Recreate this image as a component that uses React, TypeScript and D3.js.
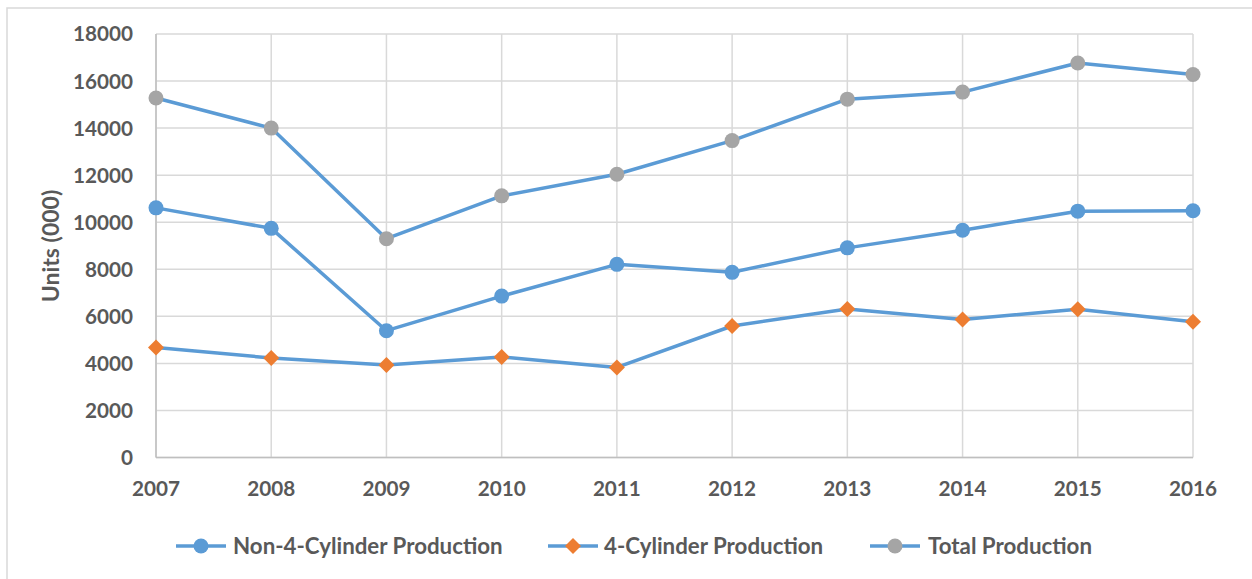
import React from "react";
import * as d3 from "d3";

const years = ["2007", "2008", "2009", "2010", "2011", "2012", "2013", "2014", "2015", "2016"];
const non4Cyl = [10610, 9740, 5390, 6860, 8210, 7870, 8910, 9660, 10470, 10490];
const fourCyl = [4680, 4230, 3930, 4270, 3830, 5590, 6310, 5870, 6300, 5770];
const totalProd = [15280, 14000, 9300, 11120, 12040, 13470, 15230, 15530, 16770, 16280];
const yTicks = [0, 2000, 4000, 6000, 8000, 10000, 12000, 14000, 16000, 18000];
const seriesNames = ["Non-4-Cylinder Production", "4-Cylinder Production", "Total Production"];

const W = 1252;
const H = 579;
const LINE = "#5B9BD5";
const TEXT = "#595959";
const FONT = "Lato, 'Open Sans', sans-serif";

export default function App() {
  const x = d3.scalePoint<string>().domain(years).range([156, 1193]);
  const y = d3.scaleLinear().domain([0, 18000]).range([457.5, 34]);
  const line = d3
    .line<number>()
    .x((_, i) => x(years[i]) as number)
    .y((d) => y(d));

  const series = [
    { name: seriesNames[0], values: non4Cyl, marker: "circle", fill: "#5B9BD5" },
    { name: seriesNames[1], values: fourCyl, marker: "diamond", fill: "#ED7D31" },
    { name: seriesNames[2], values: totalProd, marker: "circle", fill: "#A5A5A5" },
  ];

  const diamond = (cx: number, cy: number, r: number) =>
    `M${cx},${cy - r}L${cx + r},${cy}L${cx},${cy + r}L${cx - r},${cy}Z`;

  const marker = (kind: string, fill: string, cx: number, cy: number, key: string) =>
    kind === "circle" ? (
      <circle key={key} cx={cx} cy={cy} r={7.5} fill={fill} />
    ) : (
      <path key={key} d={diamond(cx, cy, 8)} fill={fill} />
    );

  const legendItems = [
    { lx: 176, tx: 233 },
    { lx: 548, tx: 604 },
    { lx: 870, tx: 928 },
  ];

  return (
    <svg
      width={W}
      height={H}
      style={{ position: "absolute", left: 0, top: 0, background: "#fff" }}
      fontFamily={FONT}
    >
      <rect x={7} y={8} width={1300} height={700} fill="#fff" stroke="#D9D9D9" strokeWidth={1.5} />
      {/* gridlines */}
      {yTicks.map((t) => (
        <line key={"h" + t} x1={156} x2={1193} y1={y(t)} y2={y(t)} stroke="#D9D9D9" strokeWidth={1.5} />
      ))}
      {years.map((yr) => (
        <line key={"v" + yr} x1={x(yr)} x2={x(yr)} y1={y(18000)} y2={y(0)} stroke="#D9D9D9" strokeWidth={1.5} />
      ))}
      <line x1={156} x2={156} y1={y(18000)} y2={y(0)} stroke="#BFBFBF" strokeWidth={1.5} />
      <line x1={156} x2={1193} y1={y(0)} y2={y(0)} stroke="#BFBFBF" strokeWidth={1.5} />

      {/* y tick labels */}
      {yTicks.map((t) => (
        <text
          key={"yt" + t}
          x={133}
          y={y(t)}
          dy="0.36em"
          textAnchor="end"
          fontSize={20.7}
          fontWeight="bold"
          fill={TEXT}
        >
          {t}
        </text>
      ))}
      {/* x tick labels */}
      {years.map((yr) => (
        <text
          key={"xt" + yr}
          x={x(yr)}
          y={489}
          dy="0.36em"
          textAnchor="middle"
          fontSize={20.7}
          fontWeight="bold"
          fill={TEXT}
        >
          {yr}
        </text>
      ))}
      {/* axis title */}
      <text
        transform="translate(51,246) rotate(-90)"
        textAnchor="middle"
        dy="0.35em"
        fontSize={23}
        fontWeight="bold"
        fill={TEXT}
      >
        Units (000)
      </text>

      {/* series lines */}
      {series.map((s) => (
        <path key={"l" + s.name} d={line(s.values) || ""} fill="none" stroke={LINE} strokeWidth={3.5} strokeLinejoin="round" />
      ))}
      {series.map((s) =>
        s.values.map((v, i) => marker(s.marker, s.fill, x(years[i]) as number, y(v), s.name + i))
      )}

      {/* legend */}
      {series.map((s, i) => {
        const it = legendItems[i];
        const cy = 546;
        return (
          <g key={"lg" + s.name}>
            <line x1={it.lx} x2={it.lx + 50} y1={cy} y2={cy} stroke={LINE} strokeWidth={3.5} />
            {marker(s.marker, s.fill, it.lx + 25, cy, "lm" + i)}
            <text x={it.tx} y={cy} dy="0.36em" fontSize={22.3} fontWeight="bold" fill={TEXT}>
              {s.name}
            </text>
          </g>
        );
      })}
    </svg>
  );
}
